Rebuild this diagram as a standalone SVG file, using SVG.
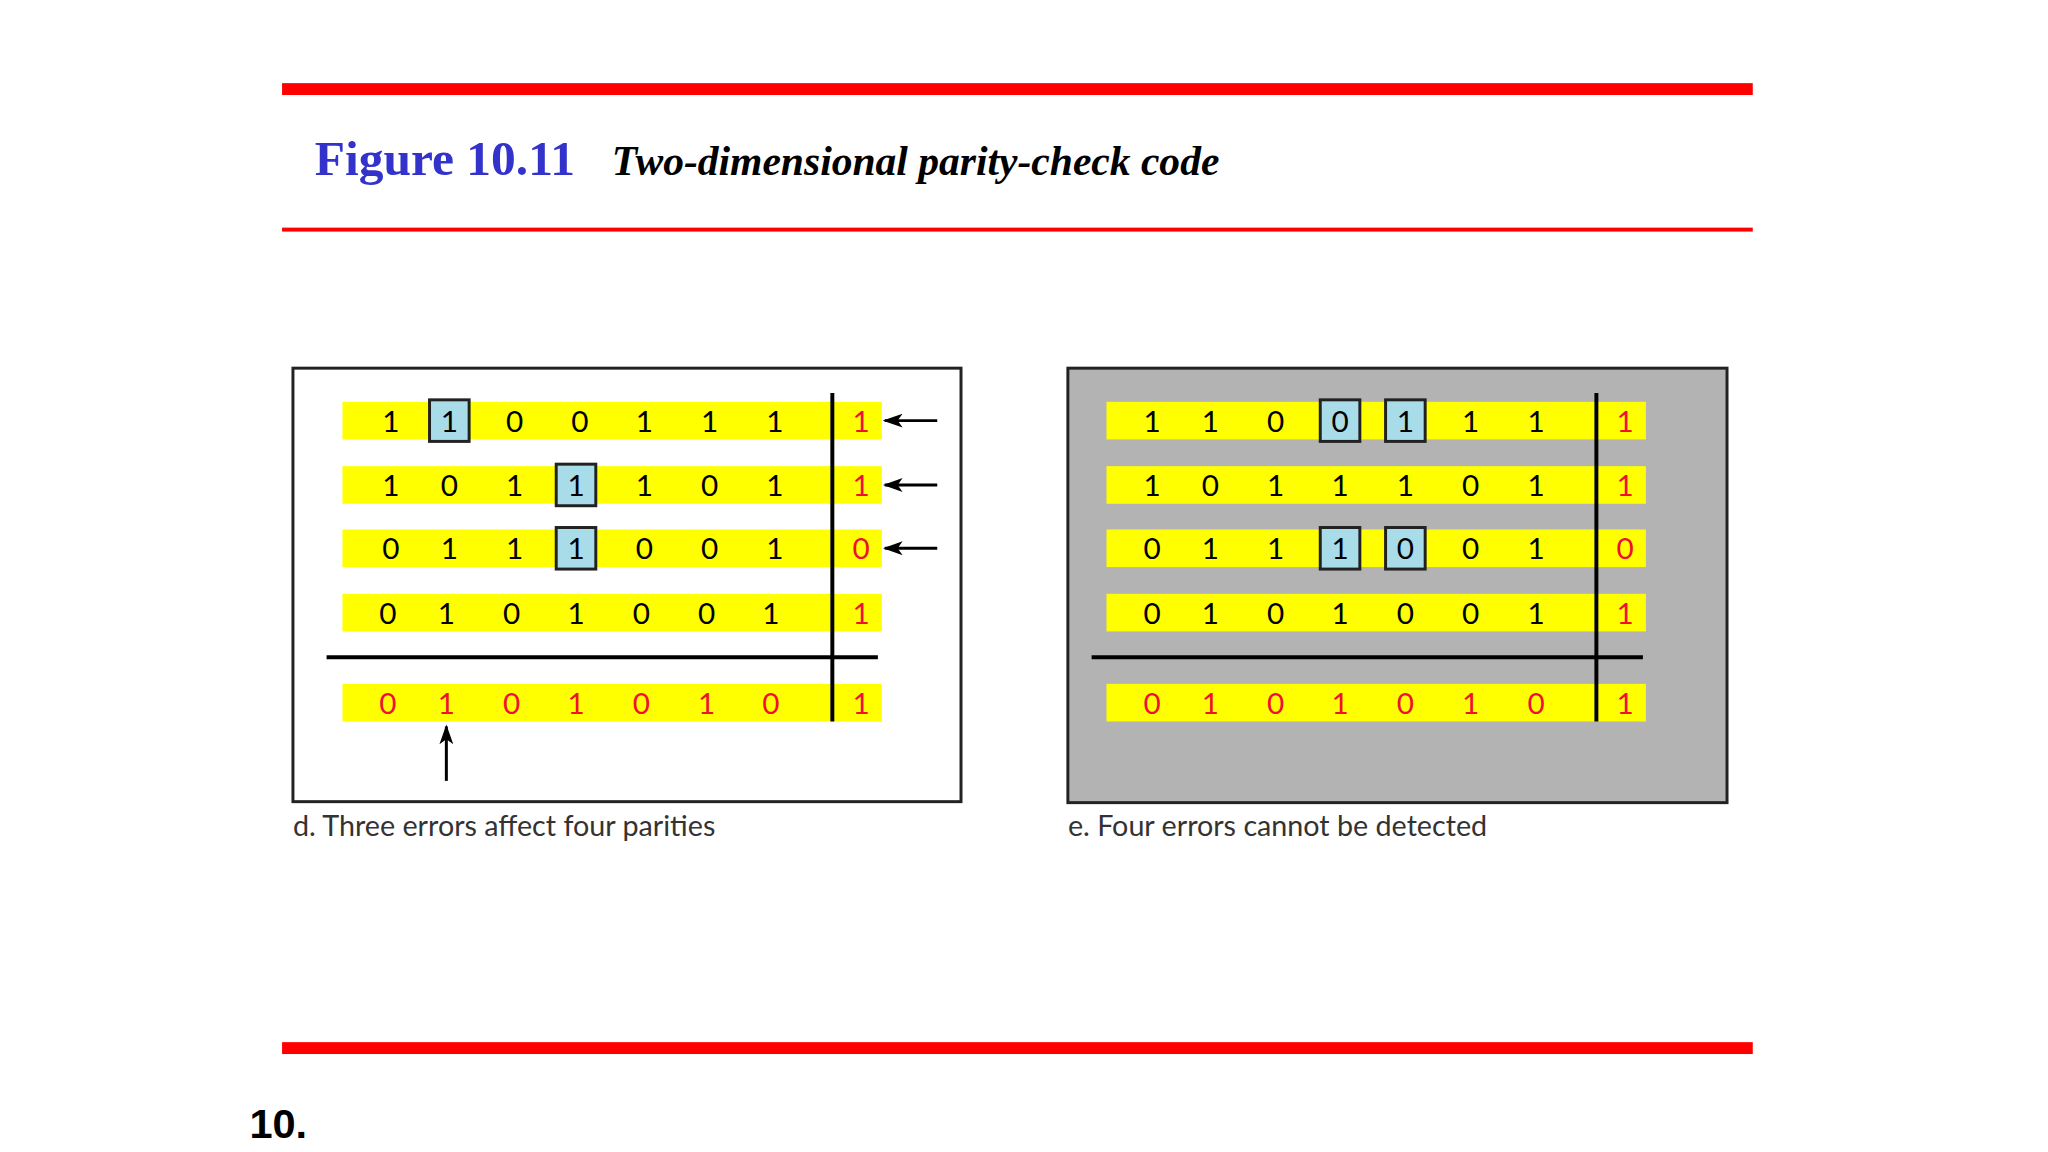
<svg xmlns="http://www.w3.org/2000/svg" width="2048" height="1152" viewBox="0 0 2048 1152">
<style>
.b{fill:#ffff00}
.d{font-family:Lato,"Open Sans",sans-serif;font-size:30px;text-anchor:middle}
.k{fill:#000}.r{fill:#ee1133}
.bx{fill:#a8dce8;stroke:#222;stroke-width:3}
.ln{stroke:#000;stroke-width:4}
.cap{font-family:Lato,"Open Sans",sans-serif;font-size:29px;fill:#333}
</style>
<defs>
<marker id="ah2" viewBox="0 0 20 14" refX="18" refY="7" markerWidth="20" markerHeight="14" markerUnits="userSpaceOnUse" orient="auto"><path d="M20,7 L0,0 L5,7 L0,14Z" fill="#000"/></marker></defs>
<rect width="2048" height="1152" fill="#fff"/>
<g transform="scale(0.9897)">
<rect x="285" y="84" width="1486" height="12" fill="#ff0000"/>
<rect x="285" y="230" width="1486" height="4" fill="#ff0000"/>
<rect x="285" y="1053" width="1486" height="12" fill="#ff0000"/>
<text x="318" y="177" font-family="Liberation Serif,serif" font-weight="bold" font-size="50" fill="#3333cc">Figure 10.11</text>
<text x="618" y="177" font-family="Liberation Serif,serif" font-weight="bold" font-style="italic" font-size="42" fill="#000">Two-dimensional parity-check code</text>
<text x="252" y="1150" font-family="Liberation Sans,sans-serif" font-weight="bold" font-size="42" fill="#000">10.</text>
<g id="panel-d">
<rect x="296" y="372" width="675" height="438" fill="#fff" stroke="#222" stroke-width="3"/>
<g class="b"><rect x="346" y="406" width="545" height="38"/><rect x="346" y="471" width="545" height="38"/><rect x="346" y="535" width="545" height="38"/><rect x="346" y="600" width="545" height="38"/><rect x="346" y="691" width="545" height="38"/></g>
<rect class="bx" x="434" y="404" width="40" height="42"/><rect class="bx" x="562" y="469" width="40" height="42"/><rect class="bx" x="562" y="533" width="40" height="42"/>
<g class="d k"><text x="395" y="436">1</text><text x="454" y="436">1</text><text x="520" y="436">0</text><text x="586" y="436">0</text><text x="651" y="436">1</text><text x="717" y="436">1</text><text x="783" y="436">1</text>
<text x="395" y="501">1</text><text x="454" y="501">0</text><text x="520" y="501">1</text><text x="582" y="501">1</text><text x="651" y="501">1</text><text x="717" y="501">0</text><text x="783" y="501">1</text>
<text x="395" y="565">0</text><text x="454" y="565">1</text><text x="520" y="565">1</text><text x="582" y="565">1</text><text x="651" y="565">0</text><text x="717" y="565">0</text><text x="783" y="565">1</text>
<text x="392" y="630">0</text><text x="451" y="630">1</text><text x="517" y="630">0</text><text x="582" y="630">1</text><text x="648" y="630">0</text><text x="714" y="630">0</text><text x="779" y="630">1</text></g>
<g class="d r"><text x="870" y="436">1</text><text x="870" y="501">1</text><text x="870" y="565">0</text><text x="870" y="630">1</text>
<text x="392" y="721">0</text><text x="451" y="721">1</text><text x="517" y="721">0</text><text x="582" y="721">1</text><text x="648" y="721">0</text><text x="714" y="721">1</text><text x="779" y="721">0</text><text x="870" y="721">1</text></g>
<line class="ln" x1="841" y1="397" x2="841" y2="729"/>
<line class="ln" x1="330" y1="664" x2="887" y2="664"/>
</g>
<g id="connectors">
<line x1="947" y1="425" x2="894" y2="425" stroke="#000" stroke-width="3" marker-end="url(#ah2)"/>
<line x1="947" y1="490" x2="894" y2="490" stroke="#000" stroke-width="3" marker-end="url(#ah2)"/>
<line x1="947" y1="554" x2="894" y2="554" stroke="#000" stroke-width="3" marker-end="url(#ah2)"/>
<line x1="451" y1="789" x2="451" y2="734" stroke="#000" stroke-width="3" marker-end="url(#ah2)"/>
</g>
<g id="panel-e">
<rect x="1079" y="372" width="666" height="439" fill="#b3b3b3" stroke="#222" stroke-width="3"/>
<g class="b"><rect x="1118" y="406" width="545" height="38"/><rect x="1118" y="471" width="545" height="38"/><rect x="1118" y="535" width="545" height="38"/><rect x="1118" y="600" width="545" height="38"/><rect x="1118" y="691" width="545" height="38"/></g>
<rect class="bx" x="1334" y="404" width="40" height="42"/><rect class="bx" x="1400" y="404" width="40" height="42"/><rect class="bx" x="1334" y="533" width="40" height="42"/><rect class="bx" x="1400" y="533" width="40" height="42"/>
<g class="d k"><text x="1164" y="436">1</text><text x="1223" y="436">1</text><text x="1289" y="436">0</text><text x="1354" y="436">0</text><text x="1420" y="436">1</text><text x="1486" y="436">1</text><text x="1552" y="436">1</text>
<text x="1164" y="501">1</text><text x="1223" y="501">0</text><text x="1289" y="501">1</text><text x="1354" y="501">1</text><text x="1420" y="501">1</text><text x="1486" y="501">0</text><text x="1552" y="501">1</text>
<text x="1164" y="565">0</text><text x="1223" y="565">1</text><text x="1289" y="565">1</text><text x="1354" y="565">1</text><text x="1420" y="565">0</text><text x="1486" y="565">0</text><text x="1552" y="565">1</text>
<text x="1164" y="630">0</text><text x="1223" y="630">1</text><text x="1289" y="630">0</text><text x="1354" y="630">1</text><text x="1420" y="630">0</text><text x="1486" y="630">0</text><text x="1552" y="630">1</text></g>
<g class="d r"><text x="1642" y="436">1</text><text x="1642" y="501">1</text><text x="1642" y="565">0</text><text x="1642" y="630">1</text>
<text x="1164" y="721">0</text><text x="1223" y="721">1</text><text x="1289" y="721">0</text><text x="1354" y="721">1</text><text x="1420" y="721">0</text><text x="1486" y="721">1</text><text x="1552" y="721">0</text><text x="1642" y="721">1</text></g>
<line class="ln" x1="1613" y1="397" x2="1613" y2="729"/>
<line class="ln" x1="1103" y1="664" x2="1660" y2="664"/>
</g>
<text class="cap" x="296" y="845">d. Three errors affect four parities</text>
<text class="cap" x="1079" y="845">e. Four errors cannot be detected</text>
</g>
</svg>
